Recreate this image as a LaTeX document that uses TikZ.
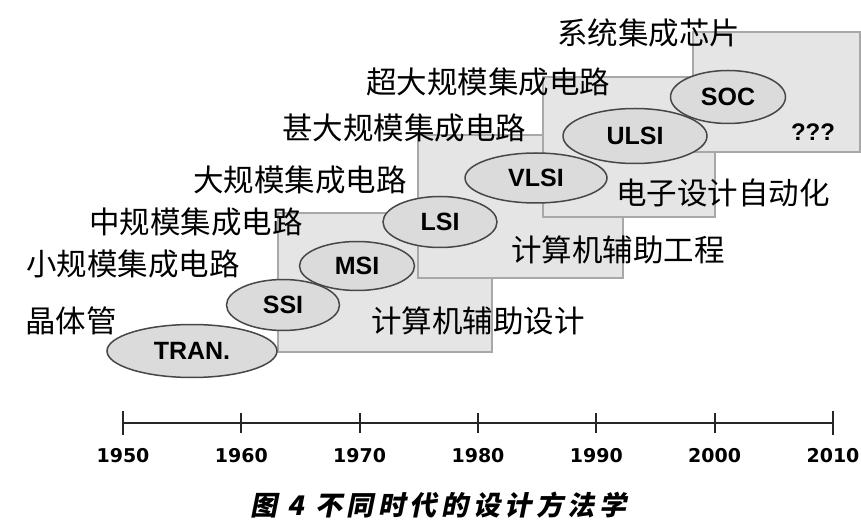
\documentclass[tikz,border=0pt]{standalone}
\usepackage{fontspec}
\usetikzlibrary{shapes.geometric}
\newfontfamily\cjk{Noto Sans CJK SC}
\newfontfamily\cjkcap[FakeSlant=0.2,LetterSpace=17]{Noto Sans CJK SC}
\newfontfamily\ellfont{Liberation Sans}
\newfontfamily\yrfont{DejaVu Sans}
\definecolor{boxfill}{gray}{0.9}
\definecolor{boxline}{gray}{0.66}
\definecolor{ellfill}{gray}{0.86}
\definecolor{ellline}{gray}{0.28}
\tikzset{
  gbox/.style={fill=boxfill, draw=boxline, line width=1.2pt},
  era/.style={ellipse, fill=ellfill, draw=ellline, line width=1.5pt, inner sep=0pt,
    font=\ellfont\bfseries\fontsize{25}{28}\selectfont},
  lab/.style={anchor=west, inner sep=0pt, font=\cjk\fontsize{30.5}{34}\selectfont},
  yr/.style={inner sep=0pt, font=\yrfont\bfseries\fontsize{19}{22}\selectfont},
  axisline/.style={line width=2pt, draw=black!85},
  tickmark/.style={line width=2pt, draw=black!85}
}
\begin{document}
\begin{tikzpicture}[x=1pt,y=-1pt]
\useasboundingbox (0,0) rectangle (861,526);
\fill[white] (0,0) rectangle (861,526);
% boxes
\draw[gbox] (278,213) rectangle (492,352);
\draw[gbox] (418,135) rectangle (623,278);
\draw[gbox] (543,77) rectangle (715,217);
\draw[gbox] (693,32) rectangle (860,152);
% labels
\node[lab] (l1) at (557,33) {系统集成芯片};
\node[lab] (l2) at (366,82) {超大规模集成电路};
\node[lab] (l3) at (282,128) {甚大规模集成电路};
\node[lab] (l4) at (193,180) {大规模集成电路};
\node[lab] (l5) at (89,222) {中规模集成电路};
\node[lab] (l6) at (26,264) {小规模集成电路};
\node[lab] (l7) at (25,321) {晶体管};
\node[lab] (m1) at (371,321) {计算机辅助设计};
\node[lab] (m2) at (511,250) {计算机辅助工程};
\node[lab] (m3) at (616,193) {电子设计自动化};
\node[inner sep=0pt, font=\ellfont\bfseries\fontsize{24}{28}\selectfont] (q) at (813,132) {???};
% ellipses
\node[era, minimum width=170pt, minimum height=53pt] (tran) at (192,351) {TRAN.};
\node[era, minimum width=113pt, minimum height=51pt] (ssi) at (283,305) {SSI};
\node[era, minimum width=115pt, minimum height=49pt] (msi) at (357,266) {MSI};
\node[era, minimum width=114pt, minimum height=51pt] (lsi) at (440,222) {LSI};
\node[era, minimum width=142pt, minimum height=50pt] (vlsi) at (536,178) {VLSI};
\node[era, minimum width=115pt, minimum height=53pt] (soc) at (728,97) {SOC};
\node[era, minimum width=144pt, minimum height=55pt] (ulsi) at (635,136) {ULSI};
% timeline
\foreach \i/\yy in {0/1950,1/1960,2/1970,3/1980,4/1990,5/2000,6/2010}{
  \coordinate (t\i) at ({123+118.33*\i},423);
  \node[yr] (y\i) at ({123+118.33*\i},456) {\yy};
}
\draw[axisline] (t0) -- (t6);
\foreach \i in {1,...,5}{
  \draw[tickmark] ([yshift=-10pt]t\i) -- ([yshift=10pt]t\i);
}
\draw[tickmark] ([yshift=-12pt]t0) -- ([yshift=12pt]t0);
\draw[tickmark] ([yshift=-12pt]t6) -- ([yshift=12pt]t6);
% caption
\node[anchor=west, inner sep=0pt, font=\cjkcap\bfseries\fontsize{27}{30}\selectfont] (caption) at (250,505) {图 4 不同时代的设计方法学};
\end{tikzpicture}
\end{document}
